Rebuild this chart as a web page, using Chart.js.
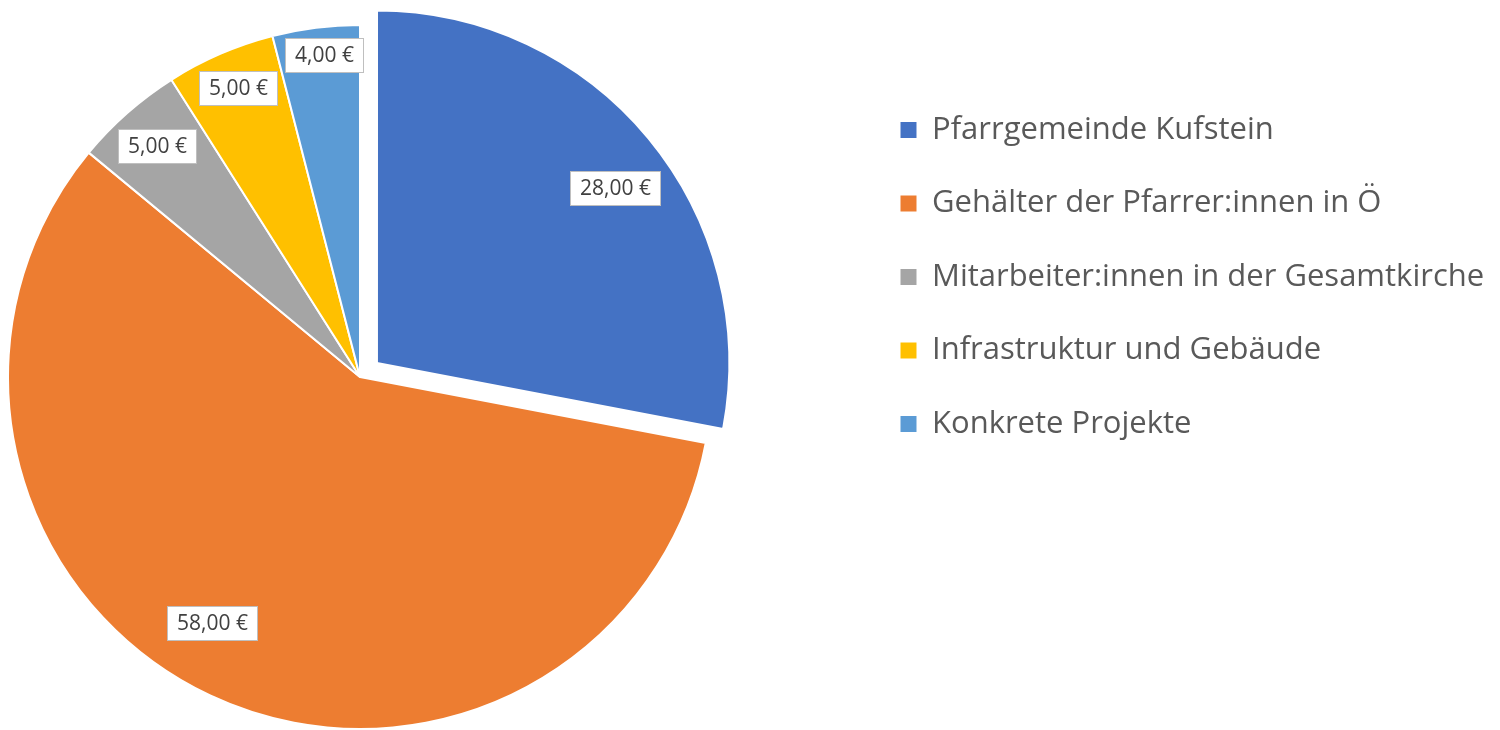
<!DOCTYPE html>
<html>
<head>
<meta charset="utf-8">
<title>Pfarrgemeinde Kufstein</title>
<script src="https://cdn.jsdelivr.net/npm/chart.js@4.4.1/dist/chart.umd.min.js"></script>
<style>
  html, body { margin: 0; padding: 0; background: #fff; overflow: hidden; }
  /* canvas is wider than the window so the pie can sit near the left edge */
  #pieChart { display: block; margin-left: -138px; }
</style>
</head>
<body>
<canvas id="pieChart" width="1638" height="730"></canvas>
<script>
const categories = [
  "Pfarrgemeinde Kufstein",
  "Gehälter der Pfarrer:innen in Ö",
  "Mitarbeiter:innen in der Gesamtkirche",
  "Infrastruktur und Gebäude",
  "Konkrete Projekte",
];
const amounts = [28, 58, 5, 5, 4];

const sliceColours = ["#4472C4", "#ED7D31", "#A5A5A5", "#FFC000", "#5B9BD5"];
// chart.js v4 only moves a slice by a quarter of its offset
const sliceOffsets = [88, 0, 0, 0, 0];

// where each value box sits: t = share along the slice, r = share of the radius
const labelSpots = [
  { t: 0.535, r: 0.84 },
  { t: 0.527, r: 0.816 },
  { t: 0.505, r: 0.87 },
  { t: 0.53, r: 0.89 },
  { t: 0.56, r: 0.92 },
];

const euro = (v) => v.toFixed(2).replace(".", ",") + " €";

// legend sits far right of the pie, so give it a fixed width
const legendWidth = {
  id: "legendWidth",
  beforeInit(chart) {
    const fit = chart.legend.fit;
    chart.legend.fit = function () {
      fit.call(this);
      this.width = 642;
    };
  },
};

const valueBoxes = {
  id: "valueBoxes",
  afterDatasetsDraw(chart, args, opts) {
    const ctx = chart.ctx;
    const meta = chart.getDatasetMeta(0);
    ctx.save();
    ctx.font = opts.size + "px " + opts.family;
    ctx.textAlign = "center";
    ctx.textBaseline = "middle";
    meta.data.forEach((arc, i) => {
      const p = arc.getProps(["x", "y", "startAngle", "endAngle", "outerRadius"], true);
      const spot = labelSpots[i];
      const a = p.startAngle + (p.endAngle - p.startAngle) * spot.t;
      const mid = (p.startAngle + p.endAngle) / 2;
      const shift = (arc.options.offset || 0) / 4;
      const cx = p.x + Math.cos(a) * p.outerRadius * spot.r + Math.cos(mid) * shift;
      const cy = p.y + Math.sin(a) * p.outerRadius * spot.r + Math.sin(mid) * shift;
      const text = euro(amounts[i]);
      const w = Math.round(ctx.measureText(text).width + opts.padX * 2);
      const h = opts.boxHeight;
      const left = Math.round(cx - w / 2);
      const top = Math.round(cy - h / 2);
      ctx.fillStyle = "#ffffff";
      ctx.fillRect(left, top, w, h);
      ctx.strokeStyle = "#BFBFBF";
      ctx.lineWidth = 1;
      ctx.strokeRect(left + 0.5, top + 0.5, w - 1, h - 1);
      ctx.fillStyle = "#404040";
      ctx.fillText(text, left + w / 2, top + h / 2 + 1);
    });
    ctx.restore();
  },
};

new Chart(document.getElementById("pieChart"), {
  type: "pie",
  data: {
    labels: categories,
    datasets: [
      {
        data: amounts,
        backgroundColor: sliceColours,
        borderColor: "#ffffff",
        borderWidth: 2,
        offset: sliceOffsets,
        clip: false,
      },
    ],
  },
  options: {
    responsive: false,
    animation: false,
    events: [],
    radius: 352,
    layout: {
      padding: { left: 0, top: 72, right: 0, bottom: 48 },
    },
    plugins: {
      tooltip: { enabled: false },
      legend: {
        position: "right",
        align: "start",
        labels: {
          boxWidth: 16,
          boxHeight: 16,
          padding: 42.5,
          color: "#595959",
          font: { family: "'Open Sans'", size: 31 },
          generateLabels(chart) {
            const base = Chart.controllers.pie.overrides.plugins.legend.labels.generateLabels;
            return base(chart).map((item) => ({ ...item, lineWidth: 0 }));
          },
        },
      },
      valueBoxes: {
        family: "'Open Sans'",
        size: 21,
        padX: 10,
        boxHeight: 35,
      },
    },
  },
  plugins: [legendWidth, valueBoxes],
});
</script>
</body>
</html>
